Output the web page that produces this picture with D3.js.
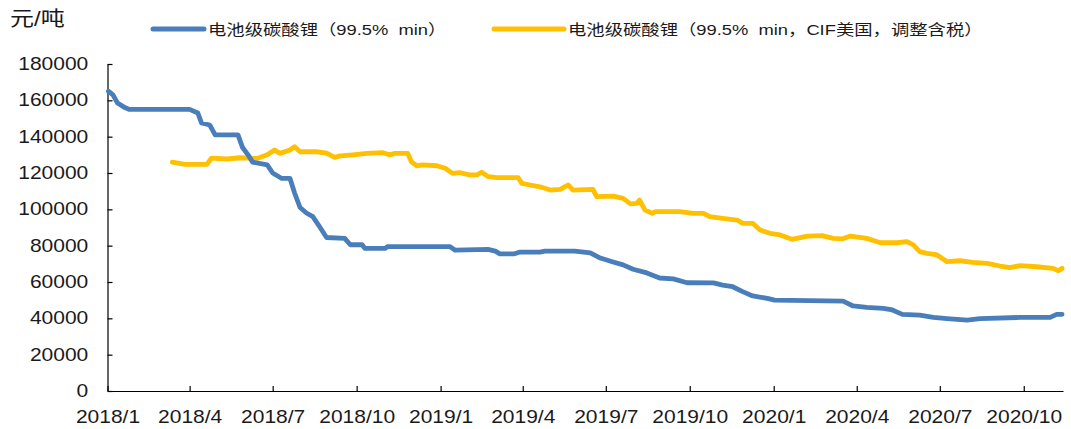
<!DOCTYPE html>
<html>
<head>
<meta charset="utf-8">
<script src="https://cdn.jsdelivr.net/npm/d3@7"></script>
<style>
  html, body { margin: 0; padding: 0; background: #fff; }
  svg { display: block; }
  text { font-family: "Liberation Sans", Arial, "Noto Sans CJK SC", sans-serif; fill: #1a1a1a; white-space: pre; }
</style>
</head>
<body>
<svg id="chart" width="1071" height="429"></svg>
<script>
// ---------------- data ----------------
const unitLabel = "元/吨";
const seriesNames = [
  "电池级碳酸锂（99.5%  min）",
  "电池级碳酸锂（99.5%  min，CIF美国，调整含税）"
];
const seriesColors = ["#4A7EBB", "#FFC000"];

const yTicks = [0, 20000, 40000, 60000, 80000, 100000, 120000, 140000, 160000, 180000];
const xTickDates = ["2018-01-01","2018-04-01","2018-07-01","2018-10-01","2019-01-01","2019-04-01",
                    "2019-07-01","2019-10-01","2020-01-01","2020-04-01","2020-07-01","2020-10-01"];
const xDomain = ["2018-01-01", "2020-11-13"];

// series 1: 电池级碳酸锂（99.5% min）
const blueDates = [
  "2018-01-02","2018-01-07","2018-01-12","2018-01-20","2018-01-25","2018-04-01","2018-04-10","2018-04-14",
  "2018-04-23","2018-04-29","2018-05-24","2018-05-29","2018-06-04","2018-06-09","2018-06-25","2018-07-01",
  "2018-07-11","2018-07-20","2018-07-25","2018-07-31","2018-08-07","2018-08-14","2018-08-22","2018-08-29",
  "2018-09-18","2018-09-24","2018-10-07","2018-10-10","2018-11-01","2018-11-04","2019-01-11","2019-01-17",
  "2019-02-22","2019-03-02","2019-03-07","2019-03-23","2019-03-29","2019-04-20","2019-04-25","2019-05-28",
  "2019-06-14","2019-06-25","2019-07-09","2019-07-20","2019-07-31","2019-08-15","2019-08-29","2019-09-13",
  "2019-09-28","2019-10-27","2019-11-06","2019-11-17","2019-11-28","2019-12-09","2019-12-25","2020-01-02",
  "2020-03-17","2020-03-28","2020-04-12","2020-04-30","2020-05-10","2020-05-21","2020-06-09","2020-06-24",
  "2020-07-09","2020-07-31","2020-08-14","2020-09-27","2020-10-30","2020-11-06","2020-11-12"
];
const blueValues = [
  165000,163000,158500,156000,155000,155000,153000,147500,
  146400,141000,141000,134000,130000,126000,124500,120000,
  117000,117000,109000,101000,98000,96000,90000,84500,
  84000,80500,80500,78500,78500,79500,79500,77500,
  78000,77000,75500,75500,76500,76500,77000,77000,
  76000,73200,71000,69400,67000,65000,62200,61700,
  59600,59500,58300,57400,54700,52300,51000,50000,
  49500,46800,46000,45500,44600,42200,41800,40500,
  39800,39000,39800,40500,40500,42200,42200
];

// series 2: 电池级碳酸锂（99.5% min，CIF美国，调整含税）
const yellowDates = [
  "2018-03-13","2018-03-27","2018-04-20","2018-04-25","2018-05-12","2018-05-26","2018-06-14","2018-06-25",
  "2018-07-03","2018-07-09","2018-07-20","2018-07-25","2018-07-31","2018-08-18","2018-08-29","2018-09-07",
  "2018-09-13","2018-09-27","2018-10-12","2018-10-30","2018-11-06","2018-11-12","2018-11-26","2018-11-30",
  "2018-12-06","2018-12-12","2018-12-28","2019-01-06","2019-01-14","2019-01-22","2019-02-02","2019-02-10",
  "2019-02-15","2019-02-22","2019-03-04","2019-03-27","2019-03-31","2019-04-09","2019-04-20","2019-05-01",
  "2019-05-12","2019-05-21","2019-05-26","2019-06-17","2019-06-21","2019-07-09","2019-07-20","2019-07-28",
  "2019-08-04","2019-08-07","2019-08-13","2019-08-21","2019-08-24","2019-09-20","2019-10-05","2019-10-16",
  "2019-10-23","2019-11-06","2019-11-22","2019-11-28","2019-12-09","2019-12-17","2019-12-28","2020-01-08",
  "2020-01-21","2020-02-07","2020-02-23","2020-03-06","2020-03-16","2020-03-25","2020-04-12","2020-04-27",
  "2020-05-15","2020-05-26","2020-06-02","2020-06-09","2020-06-17","2020-06-28","2020-07-09","2020-07-23",
  "2020-08-06","2020-08-22","2020-09-05","2020-09-16","2020-09-27","2020-10-15","2020-11-02","2020-11-08",
  "2020-11-12"
];
const yellowValues = [
  126000,124800,124800,128200,127700,128400,128000,130000,
  132700,130800,132700,134500,131700,131700,131000,128600,
  129400,130000,130800,131200,130000,130800,130800,126200,
  123900,124500,124000,122600,119800,120200,118900,119000,
  120400,118000,117400,117400,114300,113400,112400,110600,
  111000,113400,110600,111000,107000,107300,106000,103000,
  103300,105100,99600,97800,98700,98700,97800,97800,
  96000,95000,94100,92300,92300,88600,86800,85900,
  83500,85300,85500,84000,83700,85300,84000,81600,
  81600,82200,80400,76700,75800,74900,71200,71700,
  70800,70300,68800,67900,69000,68400,67500,66200,
  67500
];

// ---------------- chart ----------------
const SX = 1.2; // horizontal stretch of glyphs seen in the reference
const plot = { left: 107.5, right: 1063, top: 64, bottom: 391 };
const parse = d3.utcParse("%Y-%m-%d");
const svg = d3.select("#chart");

const x = d3.scaleUtc().domain(xDomain.map(parse)).range([plot.left, plot.right]);
const y = d3.scaleLinear().domain([0, 180000]).range([plot.bottom, plot.top]);

// axes
const yAxis = d3.axisLeft(y).tickValues(yTicks).tickFormat(d3.format("d"))
  .tickSizeInner(-5).tickSizeOuter(0).tickPadding(16);
const gy = svg.append("g").attr("transform", `translate(${plot.left},0)`).call(yAxis);
gy.select(".domain").attr("stroke", "#000").attr("stroke-width", 1.2);
gy.selectAll(".tick line").attr("stroke", "#000").attr("stroke-width", 1.2);
gy.selectAll(".tick text").attr("font-size", 17.5).attr("fill", "#1a1a1a")
  .attr("transform", `scale(${SX},1)`);

const fmtX = d3.utcFormat("%Y/%-m");
const xAxis = d3.axisBottom(x).tickValues(xTickDates.map(parse)).tickFormat(fmtX)
  .tickSizeInner(-5).tickSizeOuter(0).tickPadding(20);
const gx = svg.append("g").attr("transform", `translate(0,${plot.bottom})`).call(xAxis);
gx.select(".domain").attr("stroke", "#000").attr("stroke-width", 1.2);
gx.selectAll(".tick line").attr("stroke", "#000").attr("stroke-width", 1.2);
gx.selectAll(".tick text").attr("font-size", 17.5).attr("fill", "#1a1a1a")
  .attr("transform", `scale(${SX},1)`);
svg.selectAll("g").attr("font-family", null);

// lines (yellow first, blue on top)
const series = [
  { dates: blueDates, values: blueValues, color: seriesColors[0] },
  { dates: yellowDates, values: yellowValues, color: seriesColors[1] }
];
const line = d3.line().x(d => x(d[0])).y(d => y(d[1]));
series.slice().reverse().forEach(s => {
  const pts = s.dates.map((d, i) => [parse(d), s.values[i]]);
  svg.append("path").datum(pts)
    .attr("fill", "none").attr("stroke", s.color).attr("stroke-width", 4.8)
    .attr("stroke-linejoin", "round").attr("stroke-linecap", "round")
    .attr("d", line);
});

// unit label
svg.append("text").attr("transform", `translate(10,26) scale(${SX},1)`)
  .attr("font-size", 20).text(unitLabel);

// legend
const legend = [
  { x1: 153, x2: 204, tx: 208, name: seriesNames[0], color: seriesColors[0] },
  { x1: 494, x2: 564, tx: 568, name: seriesNames[1], color: seriesColors[1] }
];
legend.forEach(l => {
  svg.append("line").attr("x1", l.x1).attr("x2", l.x2).attr("y1", 29).attr("y2", 29)
    .attr("stroke", l.color).attr("stroke-width", 5).attr("stroke-linecap", "round");
  svg.append("text").attr("transform", `translate(${l.tx},29) scale(${SX},1)`)
    .attr("font-size", 15.3).attr("dy", "0.36em").text(l.name);
});
</script>
</body>
</html>
